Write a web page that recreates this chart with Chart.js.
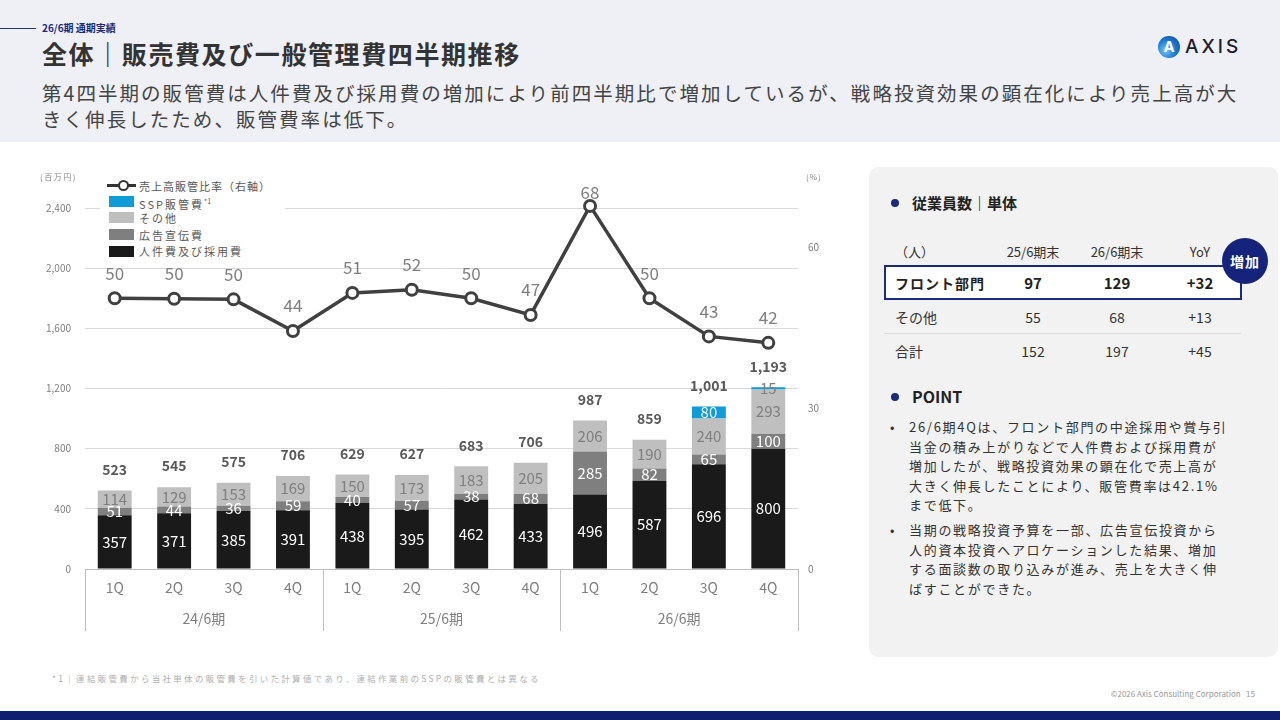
<!DOCTYPE html>
<html><head><meta charset="utf-8">
<script src="https://cdn.jsdelivr.net/npm/chart.js@4.4.1/dist/chart.umd.min.js"></script>
<style>
body{margin:0;width:1280px;height:720px;position:relative;overflow:hidden;background:#fff;font-family:"Noto Sans CJK JP","Noto Sans",sans-serif;color:#333;}
.abs{position:absolute;}
#hdr{left:0;top:0;width:1280px;height:142px;background:#eef0f6;}
#hline{left:0;top:28px;width:36px;height:1px;background:#2a3580;}
#kicker{left:42px;top:20px;font-size:10px;font-weight:700;color:#1b2a7a;line-height:16px;}
#title{left:42px;top:36px;font-size:25px;font-weight:700;color:#333;line-height:34px;letter-spacing:1.6px;}
#sub{left:42px;top:80px;font-size:19.5px;color:#444;line-height:26px;letter-spacing:2.05px;white-space:nowrap;}
#logo{left:1158px;top:36px;width:22px;height:22px;border-radius:50%;background:radial-gradient(circle at 35% 65%,#7cc4f2 0%,#1f7fd6 45%,#0b3d91 100%);color:#fff;font-family:Inter,"DejaVu Sans",sans-serif;font-weight:700;font-size:15px;line-height:22px;text-align:center;}
#logotxt{left:1185px;top:34px;font-family:Inter,"DejaVu Sans",sans-serif;font-size:19px;font-weight:500;letter-spacing:3px;color:#1b1b2f;line-height:26px;}
#chartbox{left:30px;top:165px;width:800px;height:480px;}
#unitL{left:40px;top:171px;font-size:8px;color:#888;letter-spacing:1.5px;}
#unitR{left:806px;top:171px;font-size:8px;color:#888;letter-spacing:1px;}
#legend{left:100px;top:176px;width:185px;height:84px;background:#fff;}
.lg{position:absolute;left:39px;font-size:11px;color:#595959;letter-spacing:2px;line-height:14px;white-space:nowrap;}
.sw{position:absolute;left:9px;width:25px;height:11px;}
#panel{left:869px;top:167px;width:409px;height:490px;background:#f2f2f2;border-radius:9px;}
.hd{position:absolute;font-size:15px;font-weight:700;color:#222;line-height:20px;}
.dot{position:absolute;width:8px;height:8px;border-radius:50%;background:#1b2a7a;}
.cell{position:absolute;font-size:14px;color:#333;line-height:20px;transform:translate(-50%,-50%);white-space:nowrap;}
.cl{position:absolute;font-size:14px;color:#333;line-height:20px;transform:translateY(-50%);white-space:nowrap;}
#hl{left:884px;top:265px;width:354px;height:31px;border:2px solid #1b2a7a;background:#fff;}
#sep{left:884px;top:333px;width:357px;height:1px;background:#dcdcdc;}
#badge{left:1222px;top:238px;width:46px;height:46px;border-radius:50%;background:#15237a;color:#fff;font-size:14px;font-weight:700;line-height:46px;text-align:center;letter-spacing:1px;}
.pt{position:absolute;left:909px;font-size:13px;color:#333;letter-spacing:1.7px;line-height:19.5px;white-space:nowrap;}
.bul{position:absolute;left:890px;font-size:13px;color:#333;line-height:19.5px;}
#foot{left:52px;top:672px;font-size:8.5px;color:#b0b0b0;letter-spacing:2.3px;white-space:nowrap;}
#copy{left:1100px;top:688px;width:155px;text-align:right;font-size:8px;color:#999;white-space:nowrap;}
#bar{left:0;top:711px;width:1280px;height:9px;background:#0f1e6e;}
</style></head>
<body>
<div id="hdr" class="abs"></div>
<div id="hline" class="abs"></div>
<div id="kicker" class="abs">26/6期 通期実績</div>
<div id="title" class="abs">全体｜販売費及び一般管理費四半期推移</div>
<div id="sub" class="abs">第4四半期の販管費は人件費及び採用費の増加により前四半期比で増加しているが、戦略投資効果の顕在化により売上高が大<br>きく伸長したため、販管費率は低下。</div>
<div id="logo" class="abs">A</div>
<div id="logotxt" class="abs">AXIS</div>

<div id="chartbox" class="abs"><canvas id="c" width="800" height="480"></canvas></div>
<div id="unitL" class="abs">(百万円)</div>
<div id="unitR" class="abs">(%)</div>
<div id="legend" class="abs">
  <div style="position:absolute;left:7px;top:8px;width:29px;height:3px;background:#333;"></div>
  <div style="position:absolute;left:18px;top:4px;width:7px;height:7px;border:2.5px solid #333;border-radius:50%;background:#fff;"></div>
  <div class="lg" style="top:3px;letter-spacing:1px;">売上高販管比率（右軸）</div>
  <div class="sw" style="top:20px;background:#0f9ad8;"></div>
  <div class="lg" style="top:18px;">SSP販管費<sup style="font-size:7px;letter-spacing:0;">*1</sup></div>
  <div class="sw" style="top:36px;background:#bfbfbf;"></div>
  <div class="lg" style="top:35px;">その他</div>
  <div class="sw" style="top:53px;background:#7f7f7f;"></div>
  <div class="lg" style="top:52px;">広告宣伝費</div>
  <div class="sw" style="top:70px;background:#1a1a1a;"></div>
  <div class="lg" style="top:68px;">人件費及び採用費</div>
</div>

<div id="panel" class="abs"></div>
<div class="dot" style="left:891px;top:199px;"></div>
<div class="hd" style="left:912px;top:193px;">従業員数｜単体</div>
<div id="hl" class="abs"></div>
<div class="cl" style="left:895px;top:252px;font-size:13px;">（人）</div>
<div class="cell" style="left:1033px;top:252px;font-size:13px;">25/6期末</div>
<div class="cell" style="left:1117px;top:252px;font-size:13px;">26/6期末</div>
<div class="cell" style="left:1200px;top:252px;font-size:13px;">YoY</div>
<div class="cl" style="left:895px;top:283px;font-weight:700;color:#222;letter-spacing:1px;">フロント部門</div>
<div class="cell" style="left:1033px;top:283px;font-weight:700;color:#222;font-size:15px;">97</div>
<div class="cell" style="left:1117px;top:283px;font-weight:700;color:#222;font-size:15px;">129</div>
<div class="cell" style="left:1200px;top:283px;font-weight:700;color:#222;font-size:15px;">+32</div>
<div class="cl" style="left:895px;top:317px;">その他</div>
<div class="cell" style="left:1033px;top:317px;">55</div>
<div class="cell" style="left:1117px;top:317px;">68</div>
<div class="cell" style="left:1200px;top:317px;">+13</div>
<div id="sep" class="abs"></div>
<div class="cl" style="left:895px;top:351px;">合計</div>
<div class="cell" style="left:1033px;top:351px;">152</div>
<div class="cell" style="left:1117px;top:351px;">197</div>
<div class="cell" style="left:1200px;top:351px;">+45</div>
<div id="badge" class="abs">増加</div>

<div class="dot" style="left:891px;top:393px;"></div>
<div class="hd" style="left:912px;top:386px;font-size:16px;">POINT</div>
<div class="bul" style="top:417px;">•</div>
<div class="pt" style="top:417px;">26/6期4Qは、フロント部門の中途採用や賞与引<br>当金の積み上がりなどで人件費および採用費が<br>増加したが、戦略投資効果の顕在化で売上高が<br>大きく伸長したことにより、販管費率は42.1%<br>まで低下。</div>
<div class="bul" style="top:520px;">•</div>
<div class="pt" style="top:520px;">当期の戦略投資予算を一部、広告宣伝投資から<br>人的資本投資へアロケーションした結果、増加<br>する面談数の取り込みが進み、売上を大きく伸<br>ばすことができた。</div>

<div id="foot" class="abs">*1｜連結販管費から当社単体の販管費を引いた計算値であり、連結作業前のSSPの販管費とは異なる</div>
<div id="copy" class="abs">©2026 Axis Consulting Corporation&nbsp;&nbsp;&nbsp;15</div>
<div id="bar" class="abs"></div>

<script>
// ---- data ----
const periods = ['24/6期', '25/6期', '26/6期'];
const quarters = ['1Q', '2Q', '3Q', '4Q'];
const personnel = [357, 371, 385, 391, 438, 395, 462, 433, 496, 587, 696, 800];
const advertising = [51, 44, 36, 59, 40, 57, 38, 68, 285, 82, 65, 100];
const others = [114, 129, 153, 169, 150, 173, 183, 205, 206, 190, 240, 293];
const ssp = [null, null, null, null, null, null, null, null, null, null, 80, 15];
const totals = [523, 545, 575, 706, 629, 627, 683, 706, 987, 859, 1001, 1193];
const sgaRatio = [50.4, 50.3, 50.2, 44.3, 51.4, 52.0, 50.4, 47.3, 67.6, 50.4, 43.3, 42.1];
const leftTicks = [0, 400, 800, 1200, 1600, 2000, 2400];
const rightTicks = [0, 30, 60];

const labels = [];
periods.forEach(p => quarters.forEach(q => labels.push(p + ' ' + q)));

const FONT = '"Noto Sans CJK JP","Noto Sans",sans-serif';

const labelPlugin = {
  id: 'customLabels',
  afterDatasetsDraw(chart) {
    const ctx = chart.ctx;
    const area = chart.chartArea;
    ctx.save();
    ctx.textAlign = 'center';
    ctx.textBaseline = 'middle';
    const tops = new Array(labels.length).fill(Infinity);
    chart.data.datasets.forEach((ds, di) => {
      if (ds.type === 'line') return;
      const meta = chart.getDatasetMeta(di);
      meta.data.forEach((el, i) => {
        const v = ds.data[i];
        if (v == null) return;
        tops[i] = Math.min(tops[i], el.y);
        const h = Math.abs(el.base - el.y);
        ctx.fillStyle = h < 4 ? '#7f7f7f' : ds.labelColor;
        ctx.font = '15px ' + FONT;
        ctx.fillText(String(v), el.x, (el.y + el.base) / 2);
      });
    });
    // totals
    const m0 = chart.getDatasetMeta(1);
    ctx.font = 'bold 14px ' + FONT;
    ctx.fillStyle = '#595959';
    totals.forEach((t, i) => {
      ctx.fillText(t.toLocaleString('en-US'), m0.data[i].x, tops[i] - 21);
    });
    // line labels
    chart.data.datasets.forEach((ds, di) => {
      if (ds.type !== 'line') return;
      const meta = chart.getDatasetMeta(di);
      ctx.font = '17px ' + FONT;
      ctx.fillStyle = '#7f7f7f';
      meta.data.forEach((pt, i) => {
        const y = Math.max(pt.y - 25, area.top);
        ctx.fillText(String(Math.round(ds.data[i])), pt.x, y);
      });
    });
    ctx.restore();
  },
  afterDraw(chart) {
    const ctx = chart.ctx;
    const area = chart.chartArea;
    const xs = chart.scales.x;
    const cw = (area.right - area.left) / labels.length;
    ctx.save();
    ctx.strokeStyle = '#bfbfbf';
    ctx.lineWidth = 1;
    for (let g = 0; g <= periods.length; g++) {
      const x = Math.round(area.left + g * 4 * cw) + 0.5;
      ctx.beginPath();
      ctx.moveTo(x, area.bottom);
      ctx.lineTo(x, area.bottom + 62);
      ctx.stroke();
    }
    ctx.font = '14px ' + FONT;
    ctx.fillStyle = '#7f7f7f';
    ctx.textAlign = 'center';
    ctx.textBaseline = 'middle';
    periods.forEach((p, g) => {
      const x = (xs.getPixelForValue(g * 4 + 1) + xs.getPixelForValue(g * 4 + 2)) / 2;
      ctx.fillText(p, x, area.bottom + 50);
    });
    ctx.restore();
  }
};

new Chart(document.getElementById('c'), {
  data: {
    labels: labels,
    datasets: [
      { type: 'line', label: '売上高販管比率（右軸）', data: sgaRatio, yAxisID: 'y1', order: 0,
        borderColor: '#404040', borderWidth: 3.5, pointRadius: 5.5, pointHoverRadius: 5.5,
        pointBorderWidth: 3, pointBackgroundColor: '#ffffff', pointBorderColor: '#404040', tension: 0 },
      { type: 'bar', label: '人件費及び採用費', data: personnel, backgroundColor: '#1a1a1a', labelColor: '#ffffff', order: 1, yAxisID: 'y' },
      { type: 'bar', label: '広告宣伝費', data: advertising, backgroundColor: '#7f7f7f', labelColor: '#ffffff', order: 1, yAxisID: 'y' },
      { type: 'bar', label: 'その他', data: others, backgroundColor: '#bfbfbf', labelColor: '#7f7f7f', order: 1, yAxisID: 'y' },
      { type: 'bar', label: 'SSP販管費*1', data: ssp, backgroundColor: '#0f9ad8', labelColor: '#ffffff', order: 1, yAxisID: 'y' }
    ]
  },
  options: {
    responsive: false,
    animation: false,
    layout: { padding: { top: 28, left: 0, right: 0, bottom: 0 } },
    datasets: { bar: { categoryPercentage: 1.0, barPercentage: 0.57 } },
    plugins: { legend: { display: false }, tooltip: { enabled: false } },
    scales: {
      x: {
        stacked: true,
        grid: { display: false, drawTicks: false },
        border: { display: false },
        ticks: { color: '#7f7f7f', font: { size: 14, family: FONT }, padding: 10,
                 maxRotation: 0, autoSkip: false,
                 callback: (v, i) => quarters[i % 4] },
        afterFit: s => { s.height = 76; }
      },
      y: {
        stacked: true, min: 0, max: 2500, position: 'left',
        afterBuildTicks: s => { s.ticks = leftTicks.map(v => ({ value: v })); },
        grid: { color: ctx => ctx.tick && ctx.tick.value === 0 ? '#bfbfbf' : '#d9d9d9', drawTicks: false, lineWidth: 1 },
        border: { display: false },
        ticks: { color: '#7f7f7f', font: { size: 10, family: FONT }, padding: 14,
                 callback: v => v.toLocaleString('en-US') },
        afterFit: s => { s.width = 55; }
      },
      y1: {
        min: 0, max: 70, position: 'right',
        afterBuildTicks: s => { s.ticks = rightTicks.map(v => ({ value: v })); },
        grid: { display: false, drawTicks: false },
        border: { display: false },
        ticks: { color: '#7f7f7f', font: { size: 10, family: FONT }, padding: 10 },
        afterFit: s => { s.width = 32; }
      }
    }
  },
  plugins: [labelPlugin]
});
</script>
</body></html>
